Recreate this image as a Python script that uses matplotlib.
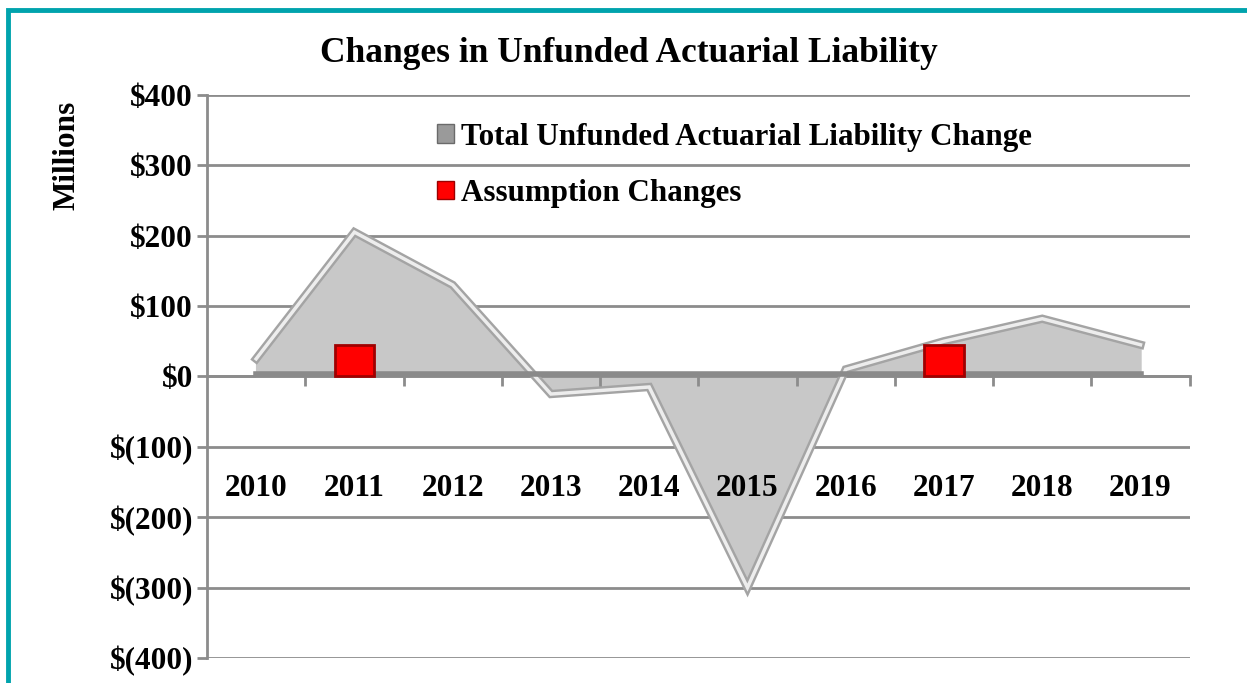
import matplotlib.pyplot as plt
import matplotlib.patches as mpatches
from matplotlib.ticker import FuncFormatter, FixedLocator
import numpy as np

years = ['2010', '2011', '2012', '2013', '2014', '2015', '2016', '2017', '2018', '2019']
total_change = [25, 205, 130, -25, -15, -300, 10, 50, 82, 45]
assumption_changes = [0, 45, 0, 0, 0, 0, 0, 45, 0, 0]

plt.rcParams['font.family'] = ['Liberation Serif', 'DejaVu Serif']
plt.rcParams['font.weight'] = 'bold'

fig = plt.figure(figsize=(12.47, 6.83), dpi=100)
ax = fig.add_axes([0.166, 0.0366, 0.788, 0.8245])

x = np.arange(len(years))
grid_col = '#8c8c8c'

# gridlines
for v in range(-400, 401, 100):
    ax.axhline(v, color=grid_col, lw=2, zorder=1)

# area with a bevel-like edge
ax.fill_between(x, total_change, 0, color='#c8c8c8', zorder=2)
ax.plot(x, total_change, color='#a4a4a4', lw=6, zorder=3, solid_joinstyle='miter')
ax.plot(x, total_change, color='#ededed', lw=2.5, zorder=3, solid_joinstyle='miter')
ax.plot([x[0], x[-1]], [3, 3], color='#8a8a8a', lw=4, zorder=3)

# assumption changes as red boxes (only years with a value)
ac = np.array(assumption_changes)
nz = ac != 0
ax.bar(x[nz], ac[nz], width=0.4, color='#ff0000', edgecolor='#a00000',
       linewidth=2, zorder=4)

ax.set_xlim(-0.5, len(years) - 0.5)
ax.set_ylim(-400, 400)

for s in ['top', 'right']:
    ax.spines[s].set_visible(False)
ax.spines['bottom'].set_position(('data', 0))
ax.spines['bottom'].set_color(grid_col)
ax.spines['bottom'].set_linewidth(2)
ax.spines['left'].set_color(grid_col)
ax.spines['left'].set_linewidth(2)
ax.xaxis.set_zorder(5)

ax.set_yticks(range(-400, 401, 100))
ax.yaxis.set_major_formatter(FuncFormatter(
    lambda v, p: '$%d' % v if v >= 0 else '$(%d)' % -v))
ax.tick_params(axis='y', length=7, width=2, color=grid_col, labelsize=22.5, pad=3)

ax.set_xticks(x)
ax.set_xticklabels(years, fontsize=22.5, fontweight='bold')
ax.xaxis.set_minor_locator(FixedLocator(np.arange(0.5, len(years), 1.0)))
ax.tick_params(axis='x', which='major', length=0, pad=70)
ax.tick_params(axis='x', which='minor', length=7, width=2, color=grid_col, direction='out')

fig.text(0.504, 0.922, 'Changes in Unfunded Actuarial Liability', ha='center', va='center',
         fontsize=25.5, fontweight='bold')
fig.text(0.054, 0.773, 'Millions', rotation=90, ha='center', va='center',
         fontsize=22.5, fontweight='bold')

handles = [mpatches.Patch(facecolor='#9a9a9a', edgecolor='#6a6a6a', label='Total Unfunded Actuarial Liability Change'),
           mpatches.Patch(facecolor='#ff0000', edgecolor='#9c0000', label='Assumption Changes')]
ax.legend(handles=handles, loc='upper left', bbox_to_anchor=(0.206, 1.0), frameon=False,
          prop={'size': 22.3, 'weight': 'bold'}, handlelength=0.55, handleheight=0.55,
          handletextpad=0.2, labelspacing=0.88)

# teal frame
fig.patches.append(mpatches.Rectangle((0.0065, -0.1), 1.2, 1.085, transform=fig.transFigure,
                                      fill=False, edgecolor='#00a3ad', lw=3.5))

fig.savefig('out.png', dpi=100, facecolor='white')
